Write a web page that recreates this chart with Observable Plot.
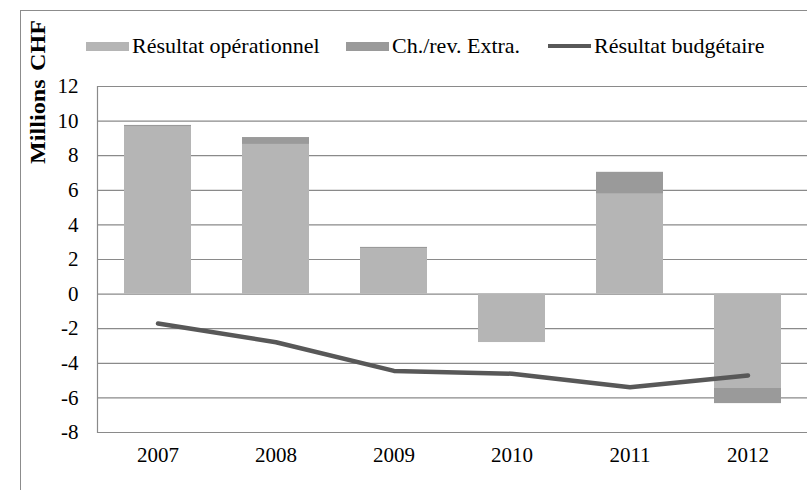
<!DOCTYPE html>
<html><head><meta charset="utf-8">
<script src="https://cdn.jsdelivr.net/npm/d3@7"></script>
<script src="https://cdn.jsdelivr.net/npm/@observablehq/plot@0.6"></script>
<style>
html,body{margin:0;padding:0;background:#fff;overflow:hidden;}
#wrap{position:relative;width:807px;height:490px;overflow:hidden;font-family:"Liberation Serif","Times New Roman",serif;background:#fff;}
#frame{position:absolute;left:20px;top:10px;width:900px;height:600px;border-left:1.5px solid #8c8c8c;border-top:1.5px solid #8c8c8c;box-sizing:border-box;}
#chart{position:absolute;left:0;top:0;width:807px;height:490px;}
#chart svg{max-width:none !important;}
.leg{position:absolute;top:34.6px;height:22px;line-height:22px;font-size:22px;color:#000;white-space:nowrap;}
.sw{position:absolute;}
#ytitle{position:absolute;left:38px;top:91.5px;font-weight:bold;font-size:21px;line-height:21px;white-space:nowrap;transform:translate(-50%,-50%) rotate(-90deg) scale(1.15,1);word-spacing:2px;}
</style>
</head><body>
<div id="wrap">
  <div id="frame"></div>
  <div id="chart"></div>
  <div id="legend"></div>
  <div id="ytitle">Millions CHF</div>
</div>
<script>
const years = ["2007", "2008", "2009", "2010", "2011", "2012"];
const operationnel = [9.65, 8.65, 2.6, -2.8, 5.77, -5.42];
const extra = [0.1, 0.4, 0.1, 0.0, 1.27, -0.91];
const budgetaire = [-1.7, -2.78, -4.44, -4.6, -5.38, -4.7];
const yTicks = [-8, -6, -4, -2, 0, 2, 4, 6, 8, 10, 12];
const seriesNames = ["Résultat opérationnel", "Ch./rev. Extra."];
const seriesColors = ["#b5b5b5", "#9a9a9a"];
const lineName = "Résultat budgétaire";
const lineColor = "#585858";

const data = [];
years.forEach((yr, i) => {
  data.push({year: yr, series: seriesNames[0], value: operationnel[i]});
  data.push({year: yr, series: seriesNames[1], value: extra[i]});
});
const lineData = years.map((yr, i) => ({year: yr, value: budgetaire[i]}));

const chart = Plot.plot({
  width: 807,
  height: 490,
  marginLeft: 97,
  marginRight: 0,
  marginTop: 86,
  marginBottom: 58,
  style: {fontFamily: "Liberation Serif", fontSize: "21px", color: "#000", background: "transparent", maxWidth: "none", overflow: "hidden"},
  x: {type: "band", domain: years, paddingInner: 0.435, paddingOuter: 0.2175, tickSize: 0, tickPadding: 15, label: null},
  y: {domain: [-8, 12], ticks: yTicks, tickFormat: d => String(d), tickSize: 0, tickPadding: 19, label: null},
  color: {domain: seriesNames, range: seriesColors},
  marks: [
    Plot.ruleY(yTicks, {stroke: "#8a8a8a", strokeWidth: 1.2}),
    Plot.barY(data, {x: "year", y: "value", fill: "series"}),
    Plot.line(lineData, {x: "year", y: "value", stroke: lineColor, strokeWidth: 4.5, strokeLinecap: "round", strokeLinejoin: "round"}),
    Plot.frame({anchor: "left", stroke: "#8a8a8a", strokeWidth: 1.2})
  ]
});
chart.style.maxWidth = "none";
document.getElementById("chart").appendChild(chart);

// legend
const legend = document.getElementById("legend");
const items = [
  {label: seriesNames[0], color: seriesColors[0], type: "rect", left: 86},
  {label: seriesNames[1], color: seriesColors[1], type: "rect", left: 346},
  {label: lineName, color: lineColor, type: "line", left: 548}
];
items.forEach(it => {
  const sw = document.createElement("div");
  sw.className = "sw";
  sw.style.left = it.left + "px";
  sw.style.width = "43px";
  sw.style.background = it.color;
  if (it.type === "rect") { sw.style.top = "41.5px"; sw.style.height = "9px"; }
  else { sw.style.top = "44px"; sw.style.height = "4px"; }
  legend.appendChild(sw);
  const t = document.createElement("div");
  t.className = "leg";
  t.style.left = (it.left + 46) + "px";
  t.textContent = it.label;
  legend.appendChild(t);
});
</script>
</body></html>
